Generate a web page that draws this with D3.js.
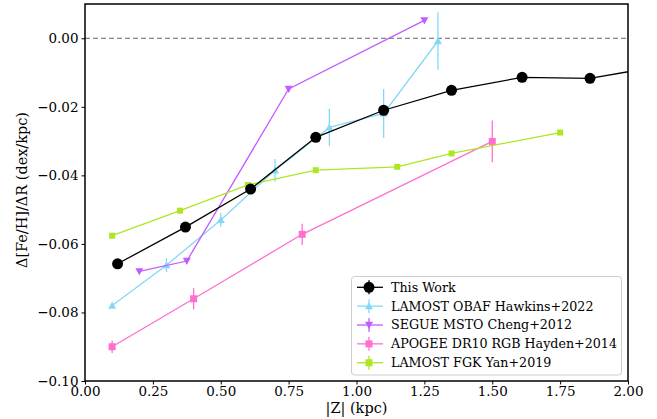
<!DOCTYPE html>
<html><head><meta charset="utf-8">
<script src="https://cdn.jsdelivr.net/npm/d3@7"></script>
<style>body{margin:0;background:#fff}svg{display:block}text{font-family:"DejaVu Serif Condensed","Noto Serif",serif}</style>
</head><body><svg id="c" width="657" height="419"></svg>
<script>
const thisWorkX = [0.12, 0.37, 0.61, 0.85, 1.10, 1.35, 1.61, 1.86, 2.12];
const thisWorkY = [-0.0658, -0.0551, -0.0440, -0.0289, -0.0210, -0.0152, -0.0114, -0.0117, -0.0081];

const hawkinsX = [0.1, 0.3, 0.5, 0.7, 0.9, 1.1, 1.3];
const hawkinsY = [-0.0780, -0.0662, -0.0530, -0.0385, -0.0260, -0.0219, -0.0008];
const hawkinsErr = [0.0005, 0.0020, 0.0020, 0.0033, 0.0054, 0.0071, 0.0084];

const chengX = [0.2, 0.375, 0.75, 1.25];
const chengY = [-0.0680, -0.0650, -0.0148, 0.0052];
const chengErr = [0, 0, 0, 0];

const haydenX = [0.1, 0.4, 0.8, 1.5];
const haydenY = [-0.0900, -0.0760, -0.0572, -0.0301];
const haydenErr = [0.0018, 0.0031, 0.0031, 0.0061];

const yanX = [0.1, 0.35, 0.6, 0.85, 1.15, 1.35, 1.75];
const yanY = [-0.0576, -0.0503, -0.0428, -0.0385, -0.0375, -0.0336, -0.0275];

const xTicks = [0, 0.25, 0.5, 0.75, 1.0, 1.25, 1.5, 1.75, 2.0];
const yTicks = [-0.10, -0.08, -0.06, -0.04, -0.02, 0.00];
const legendLabels = ["This Work", "LAMOST OBAF Hawkins+2022", "SEGUE MSTO Cheng+2012", "APOGEE DR10 RGB Hayden+2014", "LAMOST FGK Yan+2019"];

const K = 1.11; // widen condensed serif to regular proportions
const svg = d3.select("#c");
const L = 85, R = 628, T = 4, B = 381;
const x = d3.scaleLinear().domain([0, 2]).range([L, R]);
const y = d3.scaleLinear().domain([-0.10, 0.01]).range([B, T]);

svg.append("defs").append("clipPath").attr("id", "clip")
  .append("rect").attr("x", L).attr("y", T).attr("width", R - L).attr("height", B - T);

svg.append("line").attr("x1", L).attr("x2", R).attr("y1", y(0)).attr("y2", y(0))
  .attr("stroke", "#666").attr("stroke-width", 1.2).attr("stroke-dasharray", "5,3");

const g = svg.append("g").attr("clip-path", "url(#clip)");

const series = [
  {xs: hawkinsX, ys: hawkinsY, err: hawkinsErr, color: "#85d8f5", marker: "up", size: 4},
  {xs: chengX, ys: chengY, err: chengErr, color: "#c35cff", marker: "down", size: 4},
  {xs: haydenX, ys: haydenY, err: haydenErr, color: "#ff6fcf", marker: "square", size: 3.5},
  {xs: yanX, ys: yanY, err: null, color: "#aee622", marker: "square", size: 3},
  {xs: thisWorkX, ys: thisWorkY, err: null, color: "#000", marker: "circle", size: 5.5},
];

function drawMarker(sel, type, cx, cy, s, color) {
  if (type === "circle") sel.append("circle").attr("cx", cx).attr("cy", cy).attr("r", s).attr("fill", color);
  else if (type === "square") sel.append("rect").attr("x", cx - s).attr("y", cy - s).attr("width", 2 * s).attr("height", 2 * s).attr("fill", color);
  else if (type === "up") sel.append("path").attr("d", `M${cx},${cy - s}L${cx + s},${cy + s * 0.8}L${cx - s},${cy + s * 0.8}Z`).attr("fill", color);
  else if (type === "down") sel.append("path").attr("d", `M${cx},${cy + s}L${cx + s},${cy - s * 0.8}L${cx - s},${cy - s * 0.8}Z`).attr("fill", color);
}

const lineGen = d3.line();
series.forEach(s => {
  const pts = s.xs.map((v, i) => [x(v), y(s.ys[i])]);
  g.append("path").attr("d", lineGen(pts)).attr("fill", "none").attr("stroke", s.color).attr("stroke-width", 1.3);
  if (s.err) s.xs.forEach((v, i) => {
    if (s.err[i] > 0) g.append("line").attr("x1", x(v)).attr("x2", x(v))
      .attr("y1", y(s.ys[i] - s.err[i])).attr("y2", y(s.ys[i] + s.err[i]))
      .attr("stroke", s.color).attr("stroke-width", 1.3);
  });
  s.xs.forEach((v, i) => drawMarker(g, s.marker, x(v), y(s.ys[i]), s.size, s.color));
});

function widen(sel) {
  sel.each(function () {
    const t = d3.select(this);
    const ax = +(t.attr("x") || 0);
    t.attr("transform", `translate(${ax},0) scale(${K},1) translate(${-ax},0)`);
  });
}

const xAxis = d3.axisBottom(x).tickValues(xTicks).tickFormat(d3.format(".2f")).tickSizeOuter(0).tickSize(3.5).tickPadding(2);
const yAxis = d3.axisLeft(y).tickValues(yTicks).tickFormat(d => d3.format(".2f")(d).replace("-", "\u2212")).tickSizeOuter(0).tickSize(3.5).tickPadding(3);
const gx = svg.append("g").attr("transform", `translate(0,${B})`).call(xAxis);
const gy = svg.append("g").attr("transform", `translate(${L},0)`).call(yAxis);
[gx, gy].forEach(a => {
  a.attr("font-family", null);
  a.select(".domain").remove();
  a.selectAll("text").attr("font-size", 13.5).attr("fill", "#000").call(widen);
  a.selectAll("line").attr("stroke", "#000");
});
svg.append("rect").attr("x", L).attr("y", T).attr("width", R - L).attr("height", B - T)
  .attr("fill", "none").attr("stroke", "#000").attr("stroke-width", 1.5);

svg.append("text").attr("x", (L + R) / 2).attr("y", 413).attr("text-anchor", "middle")
  .attr("font-size", 14.5).text("|Z| (kpc)").call(widen);
svg.append("text").attr("transform", `translate(27,190) rotate(-90) scale(${K},1)`).attr("text-anchor", "middle")
  .attr("font-size", 14.5).text("\u0394[Fe/H]/\u0394R (dex/kpc)");

const legOrder = [series[4], series[0], series[1], series[2], series[3]];
const lg = svg.append("g");
lg.append("rect").attr("x", 351.5).attr("y", 276.5).attr("width", 270).attr("height", 98.5).attr("rx", 3)
  .attr("fill", "#fff").attr("fill-opacity", 0.8).attr("stroke", "#ccc");
legOrder.forEach((s, i) => {
  const yy = 287.3 + i * 18.85;
  lg.append("line").attr("x1", 357).attr("x2", 383).attr("y1", yy).attr("y2", yy).attr("stroke", s.color).attr("stroke-width", 1.3);
  lg.append("line").attr("x1", 369).attr("x2", 369).attr("y1", yy - 7).attr("y2", yy + 7).attr("stroke", s.color).attr("stroke-width", 1.3);
  drawMarker(lg, s.marker, 369, yy, s.marker === "circle" ? 5.5 : (s.marker === "square" ? 3.5 : 4), s.color);
  lg.append("text").attr("x", 391).attr("y", yy + 4.5).attr("font-size", 12.7).text(legendLabels[i]).call(widen);
});
</script></body></html>
